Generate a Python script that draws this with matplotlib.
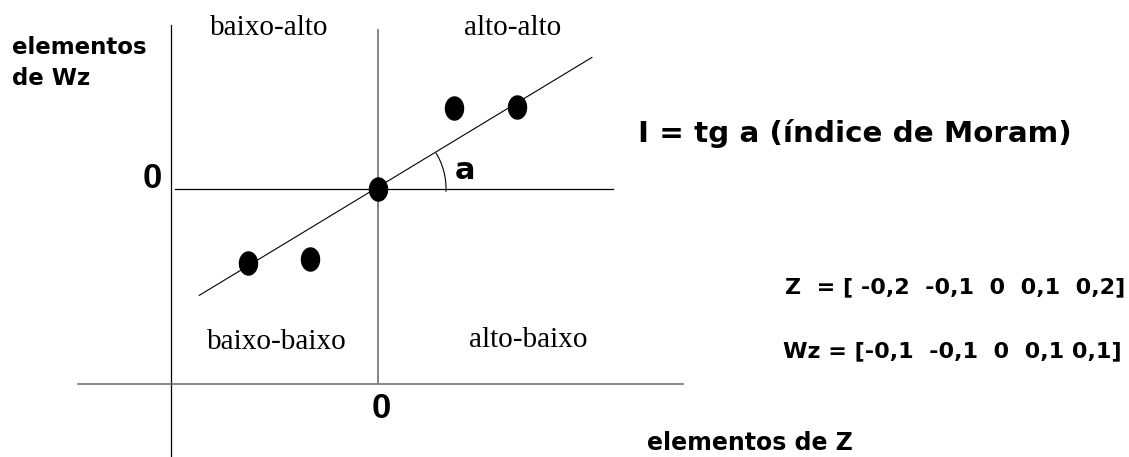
import numpy as np
import matplotlib
matplotlib.use('Agg')
import matplotlib.pyplot as plt
from matplotlib.path import Path

W, H, DPI = 1129, 457, 100

# dots as they sit in the picture (Z, Wz)
z_pts = [-0.200, -0.105, 0.0, 0.117, 0.214]
wz_pts = [-0.095, -0.091, 0.0, 0.103, 0.105]

# ends of the fitted line
line_z = [-0.275, 0.329]
line_wz = [-0.137, 0.168]

z_labels = ['-0,2', '-0,1', '0', '0,1', '0,2']
wz_labels = ['-0,1', '-0,1', '0', '0,1', '0,1']
quad_names = ['baixo-alto', 'alto-alto', 'baixo-baixo', 'alto-baixo']

# pixel scale of the drawing
sx, sy = 650.0, 780.0
ox, oy = 378.0, 188.5


def zx(px):
    return (px - ox) / sx


def wy(py):
    return (oy - py) / sy


fig = plt.figure(figsize=(W / DPI, H / DPI), dpi=DPI)
ax = fig.add_axes([0, 0, 1, 1])
ax.set_xlim(zx(0), zx(W))
ax.set_ylim(wy(H), wy(0))
ax.axis('off')

# outer frame lines
ax.plot([zx(171.5), zx(171.5)], [wy(25), wy(H)], color='black', lw=0.9)
ax.plot([zx(78), zx(683)], [wy(384), wy(384)], color='#6a6a6a', lw=1.1)

# quadrant axes
ax.plot([0, 0], [wy(30), wy(383)], color='#7a7a7a', lw=1.3)
ax.plot([zx(175), zx(613)], [0, 0], color='black', lw=0.9)

# fitted line
ax.plot(line_z, line_wz, color='black', lw=0.8)

# angle arc
slope_px = (line_wz[1] - line_wz[0]) * sy / ((line_z[1] - line_z[0]) * sx)
t = np.linspace(-0.04, np.arctan(slope_px), 40)
r = 68
ax.plot(r * np.cos(t) / sx, r * np.sin(t) / sy, color='black', lw=0.8)

# oval dots
th = np.linspace(0, 2 * np.pi, 64)
oval = Path(np.column_stack([9 * np.cos(th), 11.5 * np.sin(th)]), closed=True)
ax.plot(z_pts, wz_pts, linestyle='none', marker=oval, markersize=16.6,
        color='black', zorder=5)


def put(x, y, s, **kw):
    fig.text(x / W, 1 - y / H, s, va='baseline', **kw)


sans = 'DejaVu Sans'
serif = 'Liberation Serif'

put(12, 54, 'elementos', family=sans, weight='bold', fontsize=16.5)
put(12, 85, 'de Wz', family=sans, weight='bold', fontsize=16.5)
put(152, 188, '0', family='Liberation Sans', weight='bold', fontsize=25, ha='center')
put(381, 418, '0', family='Liberation Sans', weight='bold', fontsize=25, ha='center')
put(455, 179, 'a', family=sans, weight='bold', fontsize=22)

put(638, 142, 'I = tg a (índice de Moram)', family=sans, weight='bold', fontsize=21.2)

z_text = 'Z  = [ ' + '  '.join(z_labels) + ']'
wz_text = 'Wz = [' + '  '.join(wz_labels[:4]) + ' ' + wz_labels[4] + ']'
put(785, 293, z_text, family=sans, weight='bold', fontsize=16)
put(783, 357, wz_text, family=sans, weight='bold', fontsize=16)

put(647, 450, 'elementos de Z', family=sans, weight='bold', fontsize=17)

put(269, 35, quad_names[0], family=serif, fontsize=21, ha='center')
put(513, 35, quad_names[1], family=serif, fontsize=21, ha='center')
put(277, 349, quad_names[2], family=serif, fontsize=21, ha='center')
put(528, 347, quad_names[3], family=serif, fontsize=21, ha='center')

fig.savefig('out.png', dpi=DPI, facecolor='white')
